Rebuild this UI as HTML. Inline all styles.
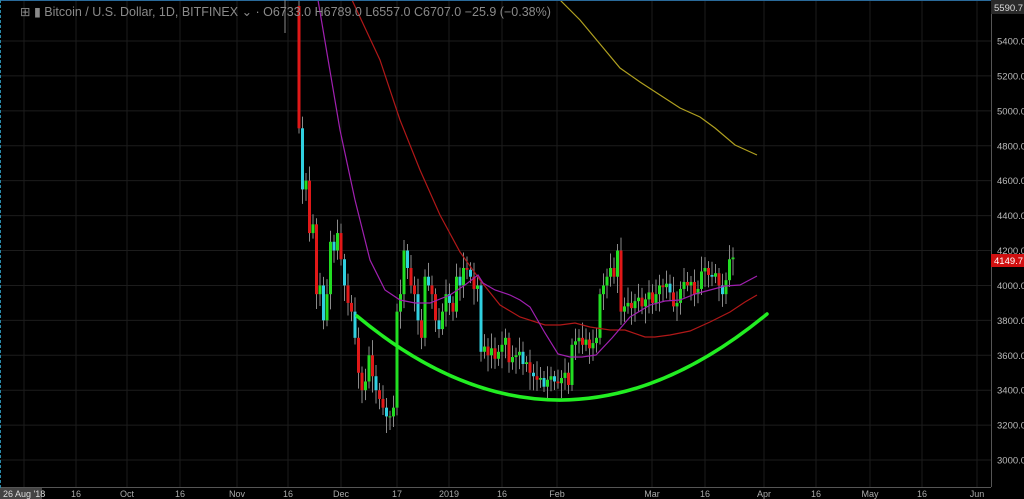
<!DOCTYPE html>
<html><head><meta charset="utf-8"><style>
html,body{margin:0;padding:0;background:#000;width:1024px;height:499px;overflow:hidden}
svg{display:block}
text{font-family:"Liberation Sans",sans-serif}
</style></head><body>
<svg id="s" width="1024" height="499" viewBox="0 0 1024 499" xmlns="http://www.w3.org/2000/svg">
<rect width="1024" height="499" fill="#000"/>
<g id="grid" stroke="#1c1c1c" stroke-width="1"></g>
<g id="wicks" stroke="#8a8a8a" stroke-width="1"></g>
<g id="bodies"></g>
<polyline fill="none" stroke="#b0a020" stroke-width="1.2" points="560,0 580,20 605,50 620,68 640,82 660,95 680,108 700,117 715,128 735,145 757,155"/>
<polyline fill="none" stroke="#b01818" stroke-width="1.2" points="352,0 380,60 400,120 420,170 440,215 460,252 480,280 500,305 520,317 545,325 560,325 575,323 590,327 610,330 625,330 645,337 655,337 670,335 690,331 710,322 730,312 745,302 757,295"/>
<polyline fill="none" stroke="#a020b0" stroke-width="1.2" points="318,0 340,130 355,200 370,260 385,290 400,300 415,303 430,303 450,295 465,285 478,275 483,283 495,290 510,295 520,300 530,307 545,333 558,354 570,357 582,357 596,355 612,338 630,317 650,305 665,301 680,300 695,294 710,290 725,286 740,285 757,276"/>
<path d="M357 316 Q560 485 767 314" fill="none" stroke="#22ee22" stroke-width="3.5" stroke-linecap="round"/>
<line x1="0" y1="0.5" x2="991" y2="0.5" stroke="#2a6a9a" stroke-width="1"/>
<line x1="991.5" y1="0" x2="991.5" y2="487" stroke="#555"/>
<line x1="0" y1="487.5" x2="991" y2="487.5" stroke="#555"/>
<line x1="0.5" y1="0" x2="0.5" y2="499" stroke="#2a8aaa" stroke-dasharray="3,2"/>
<line x1="285" y1="0" x2="285" y2="33" stroke="#8a8a8a"/>
<g id="ylab" font-size="9.5" fill="#bbb"></g>
<g id="xlab" font-size="9" fill="#aaa"></g>
<text x="20" y="16" font-size="12.5" fill="#8a8a8a">⊞ ▮ Bitcoin / U.S. Dollar, 1D, BITFINEX ⌄  ·  O6733.0  H6789.0  L6557.0  C6707.0  −25.9 (−0.38%)</text>
<rect x="991" y="0" width="33" height="14" fill="#2a2a2a"/>
<text x="994" y="11" font-size="9.5" fill="#ddd">5590.7</text>
<rect x="991" y="254" width="33" height="13" fill="#d01010"/>
<text x="994" y="264" font-size="9.5" fill="#fff">4149.7</text>
<rect x="0" y="488" width="42" height="11" fill="#444"/>
<text x="3" y="497" font-size="9" fill="#ddd">26 Aug '18</text>
</svg>
<script>
const NS="http://www.w3.org/2000/svg";
function el(p,t,a,txt){const e=document.createElementNS(NS,t);for(const k in a)e.setAttribute(k,a[k]);if(txt)e.textContent=txt;document.getElementById(p).appendChild(e);}
const Y=p=>41+(5400-p)*0.1746;
for(let p=3000;p<=5400;p+=200){const y=Y(p);el('grid','line',{x1:0,x2:991,y1:y,y2:y});el('ylab','text',{x:997,y:y+3.5},p.toFixed(1));}
const xl=[["16",76],["Oct",127],["16",180],["Nov",237],["16",288],["Dec",341],["17",397],["2019",449],["16",502],["Feb",557],["Mar",652],["16",705],["Apr",764],["16",816],["May",870],["16",922],["Jun",977]];
xl.forEach(([t,x])=>{el('grid','line',{x1:x,x2:x,y1:0,y2:487});el('xlab','text',{x:x,y:497,'text-anchor':'middle'},t);});
el('grid','line',{x1:24,x2:24,y1:0,y2:487});
const closes=[4900,4550,4600,4300,4350,3950,4000,3800,3950,4250,4200,4300,4150,4000,3900,3850,3700,3500,3400,3450,3600,3480,3400,3350,3300,3250,3250,3300,3850,3950,4200,4100,4000,3950,3800,3700,4050,4000,3950,3800,3750,3850,3950,3900,3850,4050,4000,4100,4090,4050,3980,4000,3620,3650,3600,3640,3580,3620,3660,3700,3560,3590,3600,3620,3550,3560,3500,3480,3460,3470,3420,3460,3480,3450,3440,3470,3500,3430,3660,3680,3700,3660,3690,3640,3670,3700,3950,4000,4050,4100,4050,4200,3850,3880,3900,3870,3910,3930,3880,3920,3960,3900,3950,4000,3990,4010,3960,3880,3900,3980,4020,4000,4020,3950,3980,4080,4100,4060,4050,4070,4000,3950,4030,4150,4160];
let prev=5600;
closes.forEach((c,i)=>{const d=i-12;const x=341+3.5*d;const o=prev;
 const hi=Math.max(o,c)+30+((i*37)%60),lo=Math.min(o,c)-30-((i*53)%70);
 el('wicks','line',{x1:x,x2:x,y1:Y(hi),y2:Y(lo)});
 const up=c>=o;const col=up?'#22dd22':((i%3==1)?'#30d0e0':'#e01818');
 const y1=Y(Math.max(o,c)),y2=Y(Math.min(o,c));
 el('bodies','rect',{x:x-1.5,y:y1,width:3,height:Math.max(1,y2-y1),fill:col});
 prev=c;});
</script>
</body></html>
